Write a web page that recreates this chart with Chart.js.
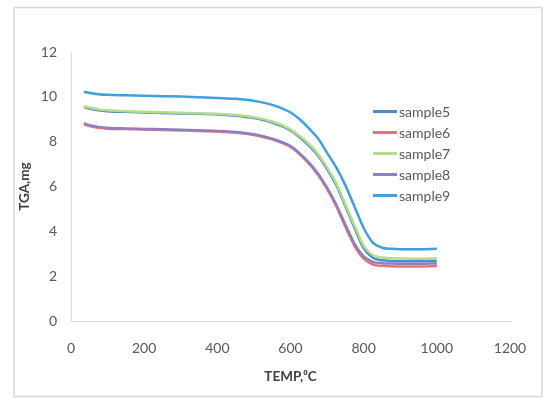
<!DOCTYPE html>
<html><head><meta charset="utf-8">
<script src="https://cdn.jsdelivr.net/npm/chart.js@4.4.0/dist/chart.umd.min.js"></script>
<style>
html,body{margin:0;padding:0;background:#fff;}
#wrap{position:relative;width:551px;height:399px;}
#legend{position:absolute;left:373px;top:101px;font-family:Lato,"Open Sans",sans-serif;font-size:14px;color:#595959;}
#legend .it{height:21px;display:flex;align-items:center;}
#legend .ln{width:24px;height:2.5px;margin-right:2px;}
</style></head>
<body><div id="wrap"><canvas id="c" width="551" height="399"></canvas><div id="legend"></div></div>
<script>
const seriesNames = ["sample5","sample6","sample7","sample8","sample9"];
const temps = [35,50,75,100,150,200,250,300,350,400,450,500,550,600,625,650,675,700,725,750,775,800,825,850,875,900,950,1000];
const sample5 = [9.55,9.48,9.40,9.36,9.33,9.30,9.28,9.26,9.24,9.21,9.16,9.05,8.85,8.50,8.20,7.83,7.38,6.78,6.07,5.12,4.15,3.25,2.82,2.71,2.68,2.67,2.67,2.68];
const sample6 = [8.78,8.70,8.62,8.58,8.56,8.54,8.52,8.50,8.48,8.45,8.40,8.30,8.10,7.76,7.44,7.03,6.52,5.88,5.12,4.20,3.35,2.78,2.52,2.46,2.44,2.43,2.43,2.45];
const sample7 = [9.58,9.52,9.44,9.40,9.36,9.33,9.31,9.29,9.27,9.24,9.19,9.09,8.90,8.55,8.25,7.90,7.45,6.85,6.15,5.20,4.25,3.35,2.93,2.83,2.80,2.79,2.78,2.80];
const sample8 = [8.82,8.74,8.66,8.62,8.59,8.57,8.55,8.53,8.51,8.48,8.43,8.33,8.13,7.80,7.48,7.08,6.58,5.95,5.20,4.30,3.45,2.88,2.64,2.58,2.56,2.55,2.55,2.57];
const sample9 = [10.22,10.18,10.12,10.09,10.07,10.05,10.03,10.01,9.98,9.95,9.91,9.82,9.64,9.30,9.00,8.60,8.15,7.50,6.85,6.05,5.10,4.15,3.50,3.27,3.22,3.20,3.20,3.22];
const xTicks = [0,200,400,600,800,1000,1200];
const yTicks = [0,2,4,6,8,10,12];
const colors = ["#4a8ccc","#e8727c","#b5dc8a","#8b80c4","#3ea0de"];
const allValues = [sample5,sample6,sample7,sample8,sample9];

const datasets = allValues.map((vals,i)=>({
  label: seriesNames[i],
  data: temps.map((t,j)=>({x:t,y:vals[j]})),
  borderColor: colors[i], backgroundColor: colors[i],
  borderWidth: 2.5, pointRadius: 0, showLine: true,
  cubicInterpolationMode: 'monotone', order: 4-i
}));

const leg = document.getElementById('legend');
seriesNames.forEach((n,i)=>{
  const d=document.createElement('div');d.className='it';
  d.innerHTML='<span class="ln" style="background:'+colors[i]+'"></span><span>'+n+'</span>';
  leg.appendChild(d);
});

const borderPlugin = {
  id:'outerBorder',
  beforeDraw(chart){
    const ctx=chart.ctx;ctx.save();
    ctx.fillStyle='#fff';ctx.fillRect(0,0,chart.width,chart.height);
    ctx.strokeStyle='#d6d6d6';ctx.lineWidth=1.5;
    ctx.strokeRect(14,7.5,528,389);
    ctx.restore();
  }
};

const font = {family:'Lato, "Open Sans", sans-serif', size:14};
new Chart(document.getElementById('c'), {
  type:'scatter',
  data:{datasets},
  plugins:[borderPlugin],
  options:{
    responsive:false, animation:false,
    layout:{padding:{left:14,top:52,right:41,bottom:10}},
    plugins:{legend:{display:false},tooltip:{enabled:false}},
    scales:{
      x:{type:'linear',min:0,max:1200,
        afterBuildTicks(s){s.ticks=xTicks.map(v=>({value:v}));},
        afterFit(s){s.height=68;},
        grid:{display:false,drawTicks:false},
        border:{display:true,color:'#d9d9d9',width:1},
        ticks:{padding:19,color:'#595959',font,maxRotation:0,autoSkip:false,callback:v=>String(v)},
        title:{display:true,text:'TEMP,⁰C',color:'#404040',font:{family:'Lato, "Open Sans", sans-serif',size:13.5,weight:'bold'},padding:{top:0,bottom:4}}
      },
      y:{type:'linear',min:0,max:12,
        afterBuildTicks(s){s.ticks=yTicks.map(v=>({value:v}));},
        afterFit(s){s.width=57;},
        grid:{display:false,drawTicks:false},
        border:{display:true,color:'#d9d9d9',width:1},
        ticks:{padding:14,color:'#595959',font,callback:v=>String(v)},
        title:{display:true,text:'TGA,mg',color:'#404040',font:{family:'Lato, "Open Sans", sans-serif',size:13.5,weight:'bold'},padding:{top:3,bottom:0}}
      }
    }
  }
});
</script></body></html>
